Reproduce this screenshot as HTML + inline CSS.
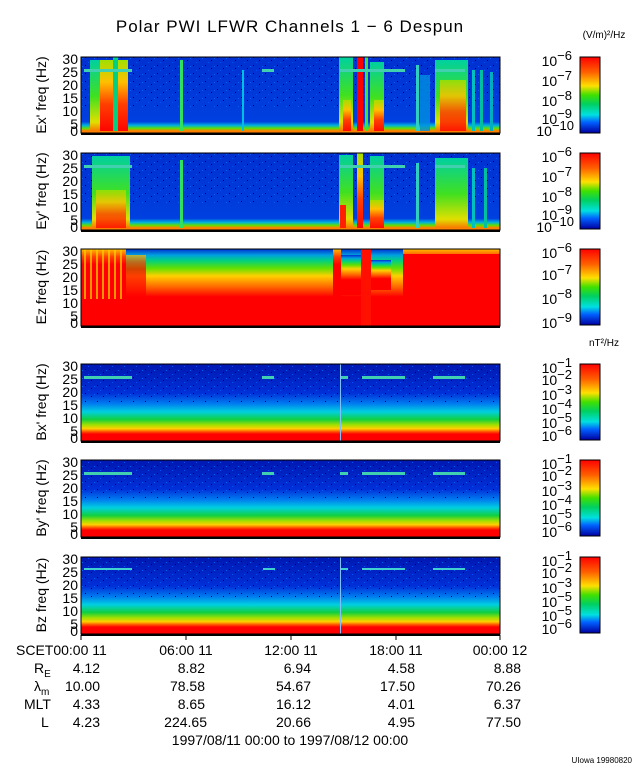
<!DOCTYPE html>
<html><head><meta charset="utf-8"><style>
body{margin:0;background:#fff;}
svg{display:block;font-family:"Liberation Sans",sans-serif;}
</style></head><body>
<svg width="640" height="768" viewBox="0 0 640 768" xmlns="http://www.w3.org/2000/svg">
<defs>
<linearGradient id="cb" x1="0" y1="0" x2="0" y2="1">
<stop offset="0" stop-color="#ff0000"/><stop offset="0.2" stop-color="#ff6000"/><stop offset="0.38" stop-color="#ffe000"/><stop offset="0.5" stop-color="#40e000"/><stop offset="0.62" stop-color="#00d060"/><stop offset="0.76" stop-color="#00e0e0"/><stop offset="0.86" stop-color="#0060ff"/><stop offset="1" stop-color="#0000a0"/>
</linearGradient>
<linearGradient id="gb" x1="0" y1="0" x2="0" y2="1">
<stop offset="0" stop-color="#0018b0"/><stop offset="0.38" stop-color="#0030d8"/><stop offset="0.52" stop-color="#0080f0"/><stop offset="0.62" stop-color="#00d0e0"/><stop offset="0.72" stop-color="#10d040"/><stop offset="0.79" stop-color="#a0e000"/><stop offset="0.84" stop-color="#ffd000"/><stop offset="0.88" stop-color="#ff5000"/><stop offset="0.91" stop-color="#ff0000"/><stop offset="1" stop-color="#ff0000"/>
</linearGradient>
<linearGradient id="ge" x1="0" y1="0" x2="0" y2="1">
<stop offset="0" stop-color="#0030d0"/><stop offset="0.85" stop-color="#0040e0"/><stop offset="0.9" stop-color="#00b0e0"/><stop offset="0.94" stop-color="#60e000"/><stop offset="0.97" stop-color="#ff8000"/><stop offset="1" stop-color="#ff0000"/>
</linearGradient>
<linearGradient id="gr" x1="0" y1="0" x2="0" y2="1">
<stop offset="0" stop-color="#a0e000"/><stop offset="0.3" stop-color="#ffc000"/><stop offset="0.6" stop-color="#ff4000"/><stop offset="1" stop-color="#ff0000"/>
</linearGradient>
<linearGradient id="gg" x1="0" y1="0" x2="0" y2="1">
<stop offset="0" stop-color="#00d0a0"/><stop offset="0.5" stop-color="#40e020"/><stop offset="0.85" stop-color="#e0e000"/><stop offset="1" stop-color="#ff6000"/>
</linearGradient>
<linearGradient id="gz" x1="0" y1="0" x2="0" y2="1">
<stop offset="0" stop-color="#0030d0"/><stop offset="0.08" stop-color="#00a0e0"/><stop offset="0.15" stop-color="#00d080"/><stop offset="0.25" stop-color="#60e000"/><stop offset="0.35" stop-color="#ffd000"/><stop offset="0.5" stop-color="#ff6000"/><stop offset="0.62" stop-color="#ff0000"/><stop offset="1" stop-color="#ff0000"/>
</linearGradient>
<linearGradient id="gz2" x1="0" y1="0" x2="0" y2="1">
<stop offset="0" stop-color="#ffc000"/><stop offset="0.1" stop-color="#ff4000"/><stop offset="0.2" stop-color="#ff0000"/><stop offset="1" stop-color="#ff0000"/>
</linearGradient>
<pattern id="noise" width="12" height="8" patternUnits="userSpaceOnUse">
<rect x="1" y="1" width="1" height="1" fill="#000"/><rect x="7" y="4" width="1" height="1" fill="#000"/><rect x="4" y="6" width="1" height="1" fill="#0050ff"/><rect x="10" y="2" width="1" height="1" fill="#0060ff"/>
</pattern>
<pattern id="stripe" width="6" height="10" patternUnits="userSpaceOnUse">
<rect x="0" y="0" width="2" height="10" fill="#ffd000" opacity="0.7"/>
</pattern>
</defs>

<text x="290" y="32" font-size="17" text-anchor="middle" letter-spacing="1">Polar PWI LFWR Channels 1 − 6 Despun</text>
<text x="604" y="38" font-size="10" text-anchor="middle">(V/m)²/Hz</text>
<text x="604" y="346" font-size="10" text-anchor="middle">nT²/Hz</text>

<!-- Ex panel -->
<g>
<rect x="81" y="57" width="419" height="76" fill="url(#ge)"/>
<rect x="81" y="57" width="419" height="50" fill="url(#noise)"/>
<rect x="90" y="60" width="20" height="73" fill="url(#gg)"/>
<rect x="100" y="60" width="28" height="73" fill="url(#gr)"/>
<rect x="113" y="57" width="5" height="76" fill="#00d080"/>
<rect x="180" y="60" width="3" height="73" fill="#30e060"/>
<rect x="242" y="70" width="2" height="63" fill="#00c0e0"/>
<rect x="339" y="57" width="14" height="76" fill="url(#gg)"/>
<rect x="343" y="100" width="8" height="33" fill="url(#gr)"/>
<rect x="357" y="57" width="6" height="76" fill="#ff0000"/>
<rect x="365" y="57" width="3" height="76" fill="#40e040"/>
<rect x="370" y="62" width="14" height="71" fill="url(#gg)"/>
<rect x="374" y="100" width="10" height="33" fill="url(#gr)"/>
<rect x="416" y="65" width="3" height="68" fill="#30d0c0"/>
<rect x="420" y="75" width="10" height="58" fill="#0090e0" opacity="0.8"/>
<rect x="435" y="60" width="33" height="73" fill="url(#gg)"/>
<rect x="440" y="80" width="26" height="53" fill="url(#gr)" opacity="0.85"/>
<rect x="472" y="70" width="3" height="63" fill="#00c0c0"/>
<rect x="480" y="70" width="3" height="63" fill="#00c0a0"/>
<rect x="490" y="72" width="3" height="61" fill="#00b0c0"/>
<rect x="84" y="69" width="48" height="3" fill="#40d0b0"/>
<rect x="262" y="69" width="12" height="3" fill="#40d0b0"/>
<rect x="340" y="69" width="65" height="3" fill="#40d0b0"/>
<rect x="435" y="69" width="30" height="3" fill="#40d0b0"/>
<rect x="81" y="131" width="419" height="2" fill="#ff8000"/>
</g>
<!-- Ey panel -->
<g>
<rect x="81" y="153" width="419" height="77" fill="url(#ge)"/>
<rect x="81" y="153" width="419" height="50" fill="url(#noise)"/>
<rect x="92" y="156" width="38" height="74" fill="url(#gg)"/>
<rect x="96" y="190" width="30" height="40" fill="url(#gr)" opacity="0.8"/>
<rect x="180" y="160" width="3" height="70" fill="#30e060"/>
<rect x="339" y="155" width="14" height="75" fill="url(#gg)"/>
<rect x="340" y="205" width="6" height="25" fill="#ff2000"/>
<rect x="357" y="153" width="6" height="77" fill="url(#gr)"/>
<rect x="370" y="156" width="14" height="74" fill="url(#gg)"/>
<rect x="370" y="200" width="14" height="30" fill="url(#gr)"/>
<rect x="416" y="163" width="3" height="67" fill="#30d0c0"/>
<rect x="435" y="158" width="33" height="72" fill="url(#gg)"/>
<rect x="472" y="168" width="3" height="62" fill="#00c0c0"/>
<rect x="484" y="168" width="3" height="62" fill="#00c0a0"/>
<rect x="84" y="165" width="48" height="3" fill="#40d0b0"/>
<rect x="340" y="165" width="65" height="3" fill="#40d0b0"/>
<rect x="435" y="165" width="30" height="3" fill="#40d0b0"/>
<rect x="81" y="228" width="419" height="2" fill="#ff8000"/>
</g>
<!-- Ez panel -->
<g>
<rect x="81" y="249" width="419" height="77" fill="url(#gz)"/>
<rect x="81" y="249" width="45" height="77" fill="url(#gz2)"/>
<rect x="81" y="249" width="45" height="50" fill="url(#stripe)"/>
<rect x="126" y="255" width="20" height="71" fill="url(#gz2)" opacity="0.7"/>
<rect x="333" y="249" width="8" height="77" fill="url(#gz2)"/>
<rect x="341" y="255" width="20" height="40" fill="url(#gz)"/>
<rect x="361" y="249" width="10" height="77" fill="#ff1000"/>
<rect x="371" y="260" width="20" height="30" fill="url(#gz)"/>
<rect x="403" y="249" width="97" height="77" fill="url(#gz2)"/>
<rect x="403" y="254" width="97" height="72" fill="#ff0000"/>
</g>
<!-- B panels -->
<g>
<rect x="81" y="364" width="419" height="77" fill="url(#gb)"/>
<rect x="81" y="364" width="419" height="40" fill="url(#noise)"/>
<rect x="84" y="376" width="48" height="3" fill="#40d0b0"/>
<rect x="262" y="376" width="12" height="3" fill="#40d0b0"/>
<rect x="340" y="376" width="8" height="3" fill="#40d0b0"/>
<rect x="362" y="376" width="43" height="3" fill="#40d0b0"/>
<rect x="433" y="376" width="32" height="3" fill="#40d0b0"/>
<rect x="340" y="364" width="1" height="77" fill="#80c0ff"/>
<rect x="81" y="460" width="419" height="77" fill="url(#gb)"/>
<rect x="81" y="460" width="419" height="40" fill="url(#noise)"/>
<rect x="84" y="472" width="48" height="3" fill="#40d0b0"/>
<rect x="262" y="472" width="12" height="3" fill="#40d0b0"/>
<rect x="340" y="472" width="8" height="3" fill="#40d0b0"/>
<rect x="362" y="472" width="43" height="3" fill="#40d0b0"/>
<rect x="433" y="472" width="32" height="3" fill="#40d0b0"/>
<rect x="81" y="557" width="419" height="77" fill="url(#gb)"/>
<rect x="81" y="557" width="419" height="40" fill="url(#noise)"/>
<rect x="84" y="568" width="48" height="2" fill="#40d0d0"/>
<rect x="263" y="568" width="12" height="2" fill="#40d0d0"/>
<rect x="340" y="568" width="8" height="2" fill="#40d0d0"/>
<rect x="362" y="568" width="43" height="2" fill="#40d0d0"/>
<rect x="433" y="568" width="32" height="2" fill="#40d0d0"/>
<rect x="340" y="557" width="1" height="77" fill="#80c0ff"/>
</g>

<g fill="none" stroke="#000" stroke-width="1">
<rect x="81" y="57" width="419" height="76"/><rect x="81" y="153" width="419" height="77"/><rect x="81" y="249" width="419" height="77"/>
<rect x="81" y="364" width="419" height="77"/><rect x="81" y="460" width="419" height="77"/><rect x="81" y="557" width="419" height="77"/>
</g>
<g stroke="#000" stroke-width="2">
<line x1="81" y1="134" x2="500" y2="134"/><line x1="81" y1="231" x2="500" y2="231"/><line x1="81" y1="327" x2="500" y2="327"/>
<line x1="81" y1="442" x2="500" y2="442"/><line x1="81" y1="538" x2="500" y2="538"/><line x1="81" y1="635" x2="500" y2="635"/>
</g>
<g stroke="#000" stroke-width="1">
<line x1="186" y1="635" x2="186" y2="640"/><line x1="291" y1="635" x2="291" y2="640"/><line x1="396" y1="635" x2="396" y2="640"/><line x1="500" y1="635" x2="500" y2="640"/><line x1="81" y1="635" x2="81" y2="640"/>
</g>

<!-- colorbars -->
<g stroke="#000" stroke-width="1">
<rect x="580" y="57" width="20" height="76" fill="url(#cb)"/>
<rect x="580" y="153" width="20" height="76" fill="url(#cb)"/>
<rect x="580" y="249" width="20" height="76" fill="url(#cb)"/>
<rect x="580" y="364" width="20" height="76" fill="url(#cb)"/>
<rect x="580" y="460" width="20" height="76" fill="url(#cb)"/>
<rect x="580" y="557" width="20" height="76" fill="url(#cb)"/>
</g>

<g font-size="14" text-anchor="end" fill="#000">
<text x="78" y="64">30</text><text x="78" y="77">25</text><text x="78" y="90">20</text><text x="78" y="103">15</text><text x="78" y="116">10</text><text x="78" y="129">5</text><text x="78" y="136">0</text>
<text x="78" y="160">30</text><text x="78" y="173">25</text><text x="78" y="186">20</text><text x="78" y="199">15</text><text x="78" y="212">10</text><text x="78" y="225">5</text><text x="78" y="232">0</text>
<text x="78" y="256">30</text><text x="78" y="269">25</text><text x="78" y="282">20</text><text x="78" y="295">15</text><text x="78" y="308">10</text><text x="78" y="321">5</text><text x="78" y="328">0</text>
<text x="78" y="371">30</text><text x="78" y="384">25</text><text x="78" y="397">20</text><text x="78" y="410">15</text><text x="78" y="423">10</text><text x="78" y="436">5</text><text x="78" y="443">0</text>
<text x="78" y="467">30</text><text x="78" y="480">25</text><text x="78" y="493">20</text><text x="78" y="506">15</text><text x="78" y="519">10</text><text x="78" y="532">5</text><text x="78" y="539">0</text>
<text x="78" y="564">30</text><text x="78" y="577">25</text><text x="78" y="590">20</text><text x="78" y="603">15</text><text x="78" y="616">10</text><text x="78" y="629">5</text><text x="78" y="636">0</text>
</g>
<g font-size="14" text-anchor="middle">
<text transform="translate(46,95) rotate(-90)">Ex' freq (Hz)</text>
<text transform="translate(46,191) rotate(-90)">Ey' freq (Hz)</text>
<text transform="translate(46,287) rotate(-90)">Ez freq (Hz)</text>
<text transform="translate(46,402) rotate(-90)">Bx' freq (Hz)</text>
<text transform="translate(46,498) rotate(-90)">By' freq (Hz)</text>
<text transform="translate(46,595) rotate(-90)">Bz freq (Hz)</text>
</g>

<g font-size="14" text-anchor="end">
<text x="572" y="66">10<tspan font-size="13" dy="-6">−6</tspan></text>
<text x="572" y="86">10<tspan font-size="13" dy="-6">−7</tspan></text>
<text x="572" y="106">10<tspan font-size="13" dy="-6">−8</tspan></text>
<text x="572" y="124">10<tspan font-size="13" dy="-6">−9</tspan></text>
<text x="574" y="136">10<tspan font-size="13" dy="-6">−10</tspan></text>
<text x="572" y="162">10<tspan font-size="13" dy="-6">−6</tspan></text>
<text x="572" y="182">10<tspan font-size="13" dy="-6">−7</tspan></text>
<text x="572" y="202">10<tspan font-size="13" dy="-6">−8</tspan></text>
<text x="572" y="220">10<tspan font-size="13" dy="-6">−9</tspan></text>
<text x="574" y="232">10<tspan font-size="13" dy="-6">−10</tspan></text>
<text x="572" y="258">10<tspan font-size="13" dy="-6">−6</tspan></text>
<text x="572" y="280">10<tspan font-size="13" dy="-6">−7</tspan></text>
<text x="572" y="304">10<tspan font-size="13" dy="-6">−8</tspan></text>
<text x="572" y="328">10<tspan font-size="13" dy="-6">−9</tspan></text>
<text x="572" y="373">10<tspan font-size="13" dy="-6">−1</tspan></text>
<text x="572" y="385">10<tspan font-size="13" dy="-6">−2</tspan></text>
<text x="572" y="400">10<tspan font-size="13" dy="-6">−3</tspan></text>
<text x="572" y="414">10<tspan font-size="13" dy="-6">−4</tspan></text>
<text x="572" y="428">10<tspan font-size="13" dy="-6">−5</tspan></text>
<text x="572" y="441">10<tspan font-size="13" dy="-6">−6</tspan></text>
<text x="572" y="469">10<tspan font-size="13" dy="-6">−1</tspan></text>
<text x="572" y="481">10<tspan font-size="13" dy="-6">−2</tspan></text>
<text x="572" y="496">10<tspan font-size="13" dy="-6">−3</tspan></text>
<text x="572" y="510">10<tspan font-size="13" dy="-6">−4</tspan></text>
<text x="572" y="524">10<tspan font-size="13" dy="-6">−5</tspan></text>
<text x="572" y="537">10<tspan font-size="13" dy="-6">−6</tspan></text>
<text x="572" y="566">10<tspan font-size="13" dy="-6">−1</tspan></text>
<text x="572" y="578">10<tspan font-size="13" dy="-6">−2</tspan></text>
<text x="572" y="593">10<tspan font-size="13" dy="-6">−3</tspan></text>
<text x="572" y="607">10<tspan font-size="13" dy="-6">−5</tspan></text>
<text x="572" y="621">10<tspan font-size="13" dy="-6">−5</tspan></text>
<text x="572" y="634">10<tspan font-size="13" dy="-6">−6</tspan></text>
</g>

<g font-size="14">
<text x="16" y="655">SCET00:00  11</text>
<text x="186" y="655" text-anchor="middle">06:00  11</text>
<text x="291" y="655" text-anchor="middle">12:00  11</text>
<text x="396" y="655" text-anchor="middle">18:00  11</text>
<text x="500" y="655" text-anchor="middle">00:00  12</text>
<text x="34" y="673">R<tspan font-size="10" dy="4">E</tspan></text>
<text x="34" y="691">λ<tspan font-size="10" dy="4">m</tspan></text>
<text x="24" y="709">MLT</text>
<text x="41" y="727">L</text>
</g>
<g font-size="14" text-anchor="end">
<text x="100" y="673">4.12</text><text x="205" y="673">8.82</text><text x="311" y="673">6.94</text><text x="415" y="673">4.58</text><text x="521" y="673">8.88</text>
<text x="100" y="691">10.00</text><text x="205" y="691">78.58</text><text x="311" y="691">54.67</text><text x="415" y="691">17.50</text><text x="521" y="691">70.26</text>
<text x="100" y="709">4.33</text><text x="205" y="709">8.65</text><text x="311" y="709">16.12</text><text x="415" y="709">4.01</text><text x="521" y="709">6.37</text>
<text x="100" y="727">4.23</text><text x="207" y="727">224.65</text><text x="311" y="727">20.66</text><text x="415" y="727">4.95</text><text x="521" y="727">77.50</text>
</g>
<text x="290" y="745" font-size="14" text-anchor="middle">1997/08/11 00:00 to 1997/08/12 00:00</text>
<text x="632" y="763" font-size="8" text-anchor="end">UIowa 19980820</text>
</svg>
</body></html>
